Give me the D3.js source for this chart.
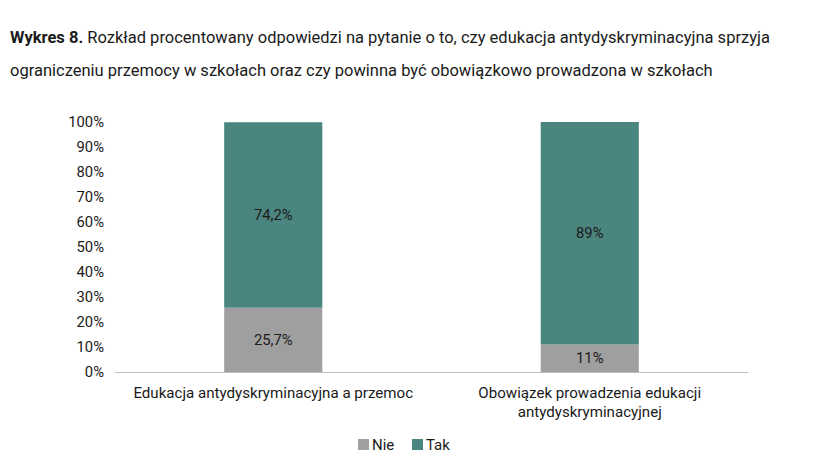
<!DOCTYPE html>
<html><head><meta charset="utf-8">
<script src="https://cdn.jsdelivr.net/npm/d3@7"></script>
<style>body{margin:0;background:#fff}svg{display:block}</style>
</head><body><svg id="c" width="813" height="471"></svg>
<script>
const categories = [["Edukacja antydyskryminacyjna a przemoc"], ["Obowiązek prowadzenia edukacji", "antydyskryminacyjnej"]];
const seriesNames = ["Nie", "Tak"];
const nie = [25.7, 11];
const tak = [74.2, 89];
const yTicks = [0,10,20,30,40,50,60,70,80,90,100];
const colors = ["#a09f9f", "#4a8580"];
const font = "Roboto, sans-serif";

const svg = d3.select("#c");
const m = {l:115, r:748, t:122, b:372};
const x = d3.scaleBand().domain([0,1]).range([m.l, m.r]).paddingInner(0.69).paddingOuter(0.345);
const y = d3.scaleLinear().domain([0,100]).range([m.b, m.t]);

// title
const t = svg.append("text").attr("x",10).attr("y",43).attr("font-family",font).attr("font-size",16.5).attr("fill","#1a1a1a");
t.append("tspan").attr("font-weight","bold").text("Wykres 8.");
t.append("tspan").text(" Rozkład procentowany odpowiedzi na pytanie o to, czy edukacja antydyskryminacyjna sprzyja");
svg.append("text").attr("x",10).attr("y",76).attr("font-family",font).attr("font-size",16.5).attr("fill","#1a1a1a")
  .text("ograniczeniu przemocy w szkołach oraz czy powinna być obowiązkowo prowadzona w szkołach");

// y axis
const ya = svg.append("g").attr("transform",`translate(${m.l},0)`)
  .call(d3.axisLeft(y).tickValues(yTicks).tickFormat(d=>d+"%").tickSize(0).tickPadding(11));
ya.select(".domain").remove();
ya.selectAll("text").attr("font-family",font).attr("font-size",14.8).attr("fill","#1a1a1a");

// stacks
const data = categories.map((c,i)=>({i, Nie:nie[i], Tak:tak[i]}));
const stack = d3.stack().keys(seriesNames)(data);
stack.forEach((s,si)=>{
  const vals = si===0 ? nie : tak;
  svg.append("g").selectAll("rect").data(s).join("rect")
    .attr("x",(d,i)=>x(i)).attr("width",x.bandwidth())
    .attr("y",d=>y(d[1])).attr("height",d=>y(d[0])-y(d[1]))
    .attr("fill",colors[si]);
  svg.append("g").selectAll("text").data(s).join("text")
    .attr("x",(d,i)=>x(i)+x.bandwidth()/2)
    .attr("y",d=>(y(d[0])+y(d[1]))/2)
    .attr("dy","0.35em").attr("text-anchor","middle")
    .attr("font-family",font).attr("font-size",14.8).attr("fill","#1a1a1a")
    .text(d=>String(vals[d.data.i]).replace(".",",")+"%");
});

// x axis line
svg.append("line").attr("x1",m.l).attr("x2",m.r).attr("y1",m.b+0.5).attr("y2",m.b+0.5).attr("stroke","#bfbfbf").attr("stroke-width",1);

// x labels
categories.forEach((lines,i)=>{
  const tx = svg.append("text").attr("text-anchor","middle").attr("font-family",font).attr("font-size",15.1).attr("fill","#1a1a1a");
  lines.forEach((ln,j)=>tx.append("tspan").attr("x",x(i)+x.bandwidth()/2).attr("y",398+j*19).text(ln));
});

// legend
const lg = [{n:"Nie",x:358},{n:"Tak",x:412}];
seriesNames.forEach((n,i)=>{
  const lx = lg[i].x;
  svg.append("rect").attr("x",lx).attr("y",439).attr("width",11).attr("height",11).attr("fill",colors[i]);
  svg.append("text").attr("x",lx+14).attr("y",450).attr("font-family",font).attr("font-size",15).attr("fill","#1a1a1a").text(n);
});
</script></body></html>
